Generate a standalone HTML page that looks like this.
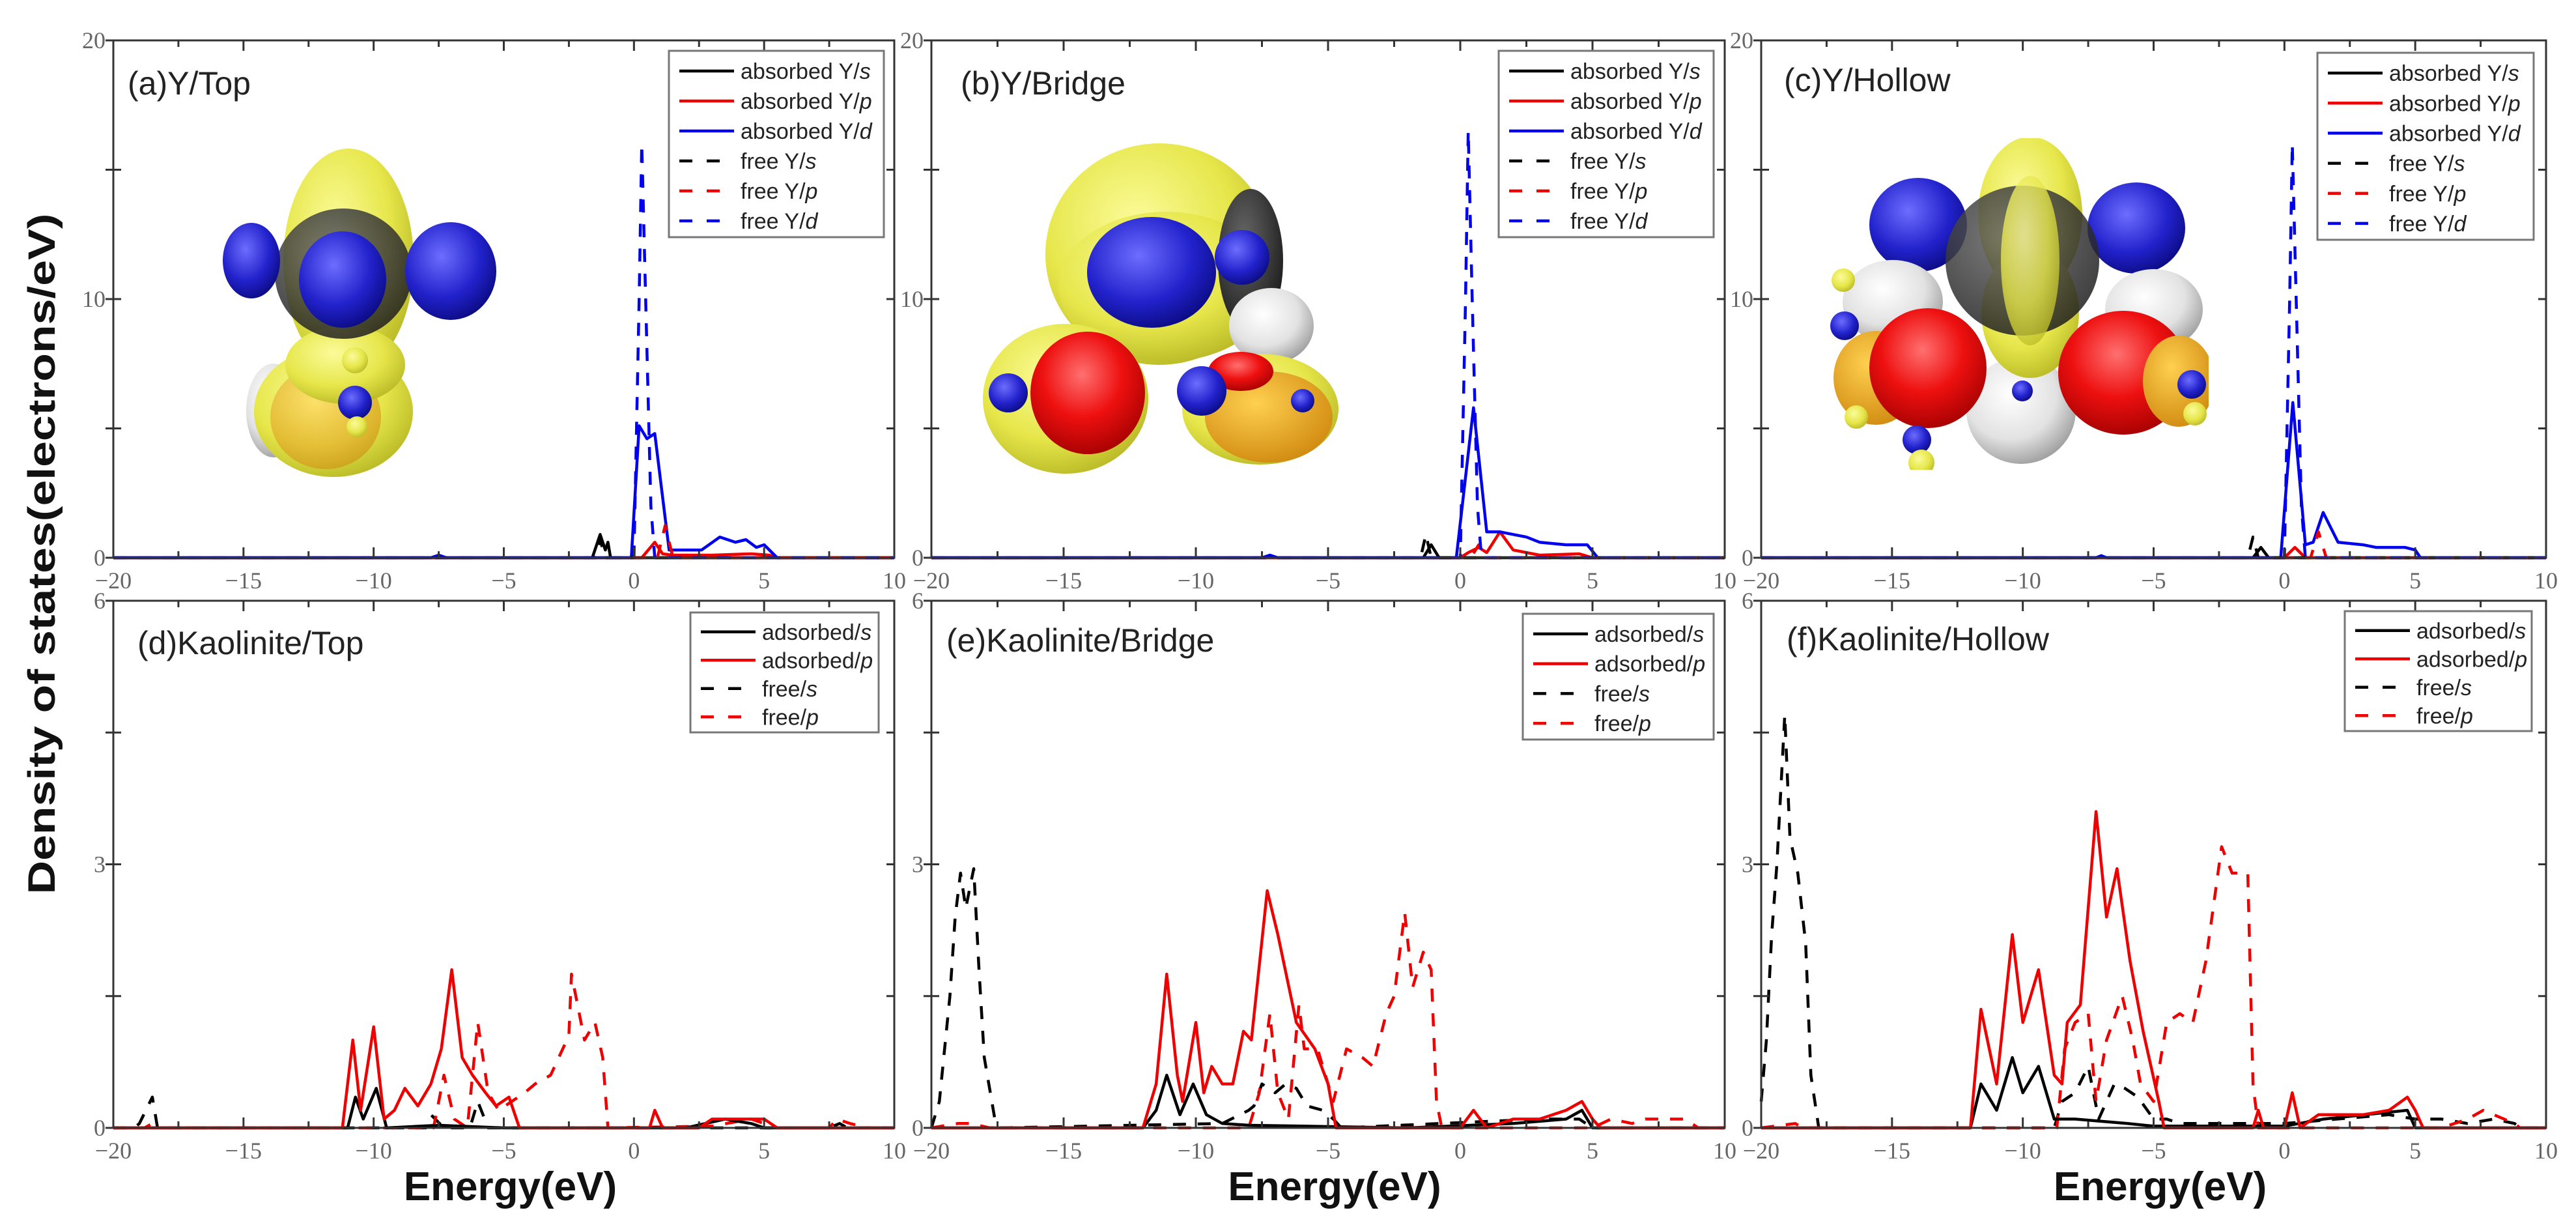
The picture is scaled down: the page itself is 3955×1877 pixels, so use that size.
<!DOCTYPE html>
<html><head><meta charset="utf-8"><style>
html,body{margin:0;padding:0;background:#fff;}
svg{display:block;}
.tk{font-family:"Liberation Serif",serif;font-size:36px;fill:#666;}
.ttl{font-family:"Liberation Sans",sans-serif;font-size:50px;fill:#222;}
.lg{font-family:"Liberation Sans",sans-serif;font-size:34px;fill:#222;}
.ax{font-family:"Liberation Sans",sans-serif;font-weight:bold;fill:#111;}
</style></head><body>
<svg id="fig" width="3955" height="1877" viewBox="0 0 3955 1877" xmlns="http://www.w3.org/2000/svg">
<defs>
<radialGradient id="gY" cx="40%" cy="35%" r="70%"><stop offset="0" stop-color="#fbfb9a"/><stop offset="0.6" stop-color="#e6e64a"/><stop offset="1" stop-color="#b8b826"/></radialGradient>
<radialGradient id="gB" cx="40%" cy="35%" r="70%"><stop offset="0" stop-color="#6d6dff"/><stop offset="0.6" stop-color="#2222cc"/><stop offset="1" stop-color="#0a0a80"/></radialGradient>
<radialGradient id="gR" cx="45%" cy="35%" r="70%"><stop offset="0" stop-color="#ff7070"/><stop offset="0.5" stop-color="#ee1010"/><stop offset="1" stop-color="#a00000"/></radialGradient>
<radialGradient id="gW" cx="40%" cy="35%" r="70%"><stop offset="0" stop-color="#ffffff"/><stop offset="0.6" stop-color="#e2e2e2"/><stop offset="1" stop-color="#9a9a9a"/></radialGradient>
<radialGradient id="gK" cx="40%" cy="35%" r="70%"><stop offset="0" stop-color="#666"/><stop offset="1" stop-color="#1c1c1c"/></radialGradient>
<radialGradient id="gO" cx="40%" cy="35%" r="70%"><stop offset="0" stop-color="#ffd050"/><stop offset="1" stop-color="#d08a10"/></radialGradient>
<clipPath id="clipC"><rect x="2806" y="212" width="585" height="509"/></clipPath>
</defs>

<!-- molecule a -->
<g>
<ellipse cx="420" cy="630" rx="42" ry="72" fill="url(#gW)"/>
<ellipse cx="512" cy="632" rx="122" ry="100" fill="url(#gY)"/>
<ellipse cx="500" cy="640" rx="85" ry="80" fill="url(#gO)" opacity="0.6"/>
<ellipse cx="535" cy="400" rx="100" ry="172" fill="url(#gY)"/>
<ellipse cx="530" cy="560" rx="92" ry="60" fill="url(#gY)"/>
<ellipse cx="527" cy="420" rx="105" ry="100" fill="url(#gK)" opacity="0.85"/>
<ellipse cx="386" cy="400" rx="44" ry="58" fill="url(#gB)"/>
<ellipse cx="692" cy="416" rx="70" ry="75" fill="url(#gB)"/>
<ellipse cx="526" cy="429" rx="67" ry="74" fill="url(#gB)"/>
<circle cx="545" cy="553" r="20" fill="url(#gY)"/>
<circle cx="545" cy="618" r="26" fill="url(#gB)"/>
<circle cx="548" cy="655" r="16" fill="url(#gY)"/>
</g>
<!-- molecule b -->
<g>
<ellipse cx="1780" cy="390" rx="175" ry="170" fill="url(#gY)"/>
<ellipse cx="1790" cy="440" rx="165" ry="115" fill="url(#gY)"/>
<ellipse cx="1920" cy="400" rx="50" ry="110" fill="url(#gK)"/>
<ellipse cx="1768" cy="418" rx="99" ry="85" fill="url(#gB)"/>
<ellipse cx="1907" cy="395" rx="42" ry="42" fill="url(#gB)"/>
<ellipse cx="1952" cy="500" rx="65" ry="58" fill="url(#gW)"/>
<ellipse cx="1636" cy="612" rx="127" ry="115" fill="url(#gY)"/>
<ellipse cx="1670" cy="603" rx="88" ry="94" fill="url(#gR)"/>
<ellipse cx="1935" cy="628" rx="120" ry="85" fill="url(#gY)"/>
<ellipse cx="1948" cy="640" rx="98" ry="70" fill="url(#gO)"/>
<ellipse cx="1905" cy="570" rx="50" ry="30" fill="url(#gR)"/>
<circle cx="1548" cy="603" r="30" fill="url(#gB)"/>
<circle cx="1845" cy="600" r="38" fill="url(#gB)"/>
<circle cx="2000" cy="615" r="18" fill="url(#gB)"/>
</g>
<!-- molecule c -->
<g clip-path="url(#clipC)">
<ellipse cx="3103" cy="630" rx="84" ry="82" fill="url(#gW)"/>
<ellipse cx="3117" cy="330" rx="80" ry="120" fill="url(#gY)"/>
<ellipse cx="3117" cy="480" rx="75" ry="100" fill="url(#gY)"/>
<ellipse cx="2945" cy="345" rx="75" ry="72" fill="url(#gB)"/>
<ellipse cx="3280" cy="350" rx="75" ry="70" fill="url(#gB)"/>
<ellipse cx="3105" cy="400" rx="118" ry="115" fill="url(#gK)" opacity="0.85"/>
<ellipse cx="3117" cy="400" rx="45" ry="130" fill="url(#gY)" opacity="0.8"/>
<ellipse cx="2906" cy="463" rx="77" ry="64" fill="url(#gW)"/>
<ellipse cx="3307" cy="475" rx="75" ry="62" fill="url(#gW)"/>
<ellipse cx="2880" cy="580" rx="65" ry="72" fill="url(#gO)"/>
<ellipse cx="2960" cy="565" rx="90" ry="92" fill="url(#gR)"/>
<ellipse cx="3260" cy="572" rx="100" ry="95" fill="url(#gR)"/>
<ellipse cx="3345" cy="585" rx="55" ry="70" fill="url(#gO)"/>
<circle cx="2832" cy="500" r="22" fill="url(#gB)"/>
<circle cx="2830" cy="430" r="18" fill="url(#gY)"/>
<circle cx="2850" cy="640" r="18" fill="url(#gY)"/>
<circle cx="2943" cy="675" r="22" fill="url(#gB)"/>
<circle cx="2950" cy="710" r="20" fill="url(#gY)"/>
<circle cx="3105" cy="600" r="16" fill="url(#gB)"/>
<circle cx="3365" cy="590" r="22" fill="url(#gB)"/>
<circle cx="3370" cy="635" r="18" fill="url(#gY)"/>
</g>

<text class="ax" transform="translate(84,850) rotate(-90)" text-anchor="middle" font-size="58" textLength="1045" lengthAdjust="spacingAndGlyphs">Density of states(electrons/eV)</text>
<g id="plots"></g>
</svg>
<script>
// ===== Panel (a) Y/Top =====
const aAbsS_E = [-20,-1.6,-1.3,-1.1,-1.0,-0.9,10];
const aAbsS_D = [0,0,0.9,0.3,0.6,0,0];
const aAbsP_E = [-20,0.3,0.8,1.1,1.5,3,4.5,5.2,5.5,10];
const aAbsP_D = [0,0,0.6,0.15,0.1,0.1,0.15,0.1,0,0];
const aAbsD_E = [-20,-7.8,-7.5,-7.2,-0.1,0.2,0.5,0.8,1.35,2,2.6,3.3,3.9,4.3,4.7,5,5.5,10];
const aAbsD_D = [0,0,0.1,0,0,5.1,4.6,4.8,0.3,0.3,0.3,0.8,0.6,0.7,0.4,0.5,0,0];
const aFreeS_E = [-20,-1.5,-1.3,-1.1,10];
const aFreeS_D = [0,0,0.7,0,0];
const aFreeP_E = [-20,0.9,1.2,1.5,10];
const aFreeP_D = [0,0,1.25,0,0];
const aFreeD_E = [-20,0,0.2,0.3,0.45,0.65,0.8,10];
const aFreeD_D = [0,0,10,16,10,2,0,0];
// ===== Panel (b) Y/Bridge =====
const bAbsS_E = [-20,-1.4,-1.1,-0.8,10];
const bAbsS_D = [0,0,0.5,0,0];
const bAbsP_E = [-20,0,0.3,0.7,1.0,1.5,2,3,4.5,5,10];
const bAbsP_D = [0,0,0.2,0.4,0.2,1.0,0.3,0.1,0.15,0,0];
const bAbsD_E = [-20,-7.5,-7.2,-6.9,-0.15,0.5,1.0,1.5,2.5,3,4,4.8,5.2,10];
const bAbsD_D = [0,0,0.1,0,0,5.8,1.0,1.0,0.8,0.6,0.5,0.5,0,0];
const bFreeS_E = [-20,-1.5,-1.3,-1.1,10];
const bFreeS_D = [0,0,0.9,0,0];
const bFreeP_E = [-20,0.4,0.7,1.0,10];
const bFreeP_D = [0,0,0.5,0,0];
const bFreeD_E = [-20,0,0.2,0.3,0.45,0.65,0.8,10];
const bFreeD_D = [0,0,10,16.5,10,2,0,0];
// ===== Panel (c) Y/Hollow =====
const cAbsS_E = [-20,-1.2,-0.9,-0.6,10];
const cAbsS_D = [0,0,0.4,0,0];
const cAbsP_E = [-20,0,0.4,0.8,10];
const cAbsP_D = [0,0,0.4,0,0];
const cAbsD_E = [-20,-7.2,-7,-6.8,-0.14,0.32,0.8,1.1,1.48,2.05,3,3.5,4.6,5.0,5.2,10];
const cAbsD_D = [0,0,0.08,0,0,6.0,0.5,0.6,1.75,0.6,0.5,0.4,0.4,0.3,0,0];
const cFreeS_E = [-20,-1.4,-1.2,-1.0,10];
const cFreeS_D = [0,0,0.8,0,0];
const cFreeP_E = [-20,1.0,1.3,1.6,10];
const cFreeP_D = [0,0,1.0,0,0];
const cFreeD_E = [-20,0,0.2,0.3,0.45,0.65,0.8,10];
const cFreeD_D = [0,0,10,16,10,2,0,0];
// ===== Panel (d) Kaolinite/Top =====
const dAbsS_E = [-20,-11,-10.7,-10.4,-9.9,-9.5,-7.5,-5,2,3.5,4.5,5,10];
const dAbsS_D = [0,0,0.35,0.1,0.45,0,0.03,0,0,0.1,0.05,0,0];
const dAbsP_E = [-20,-11.2,-10.8,-10.5,-10.0,-9.6,-9.2,-8.8,-8.3,-7.8,-7.4,-7.0,-6.6,-6.2,-5.7,-5.3,-4.8,-4.4,0.6,0.8,1.1,2.5,3,5,5.5,10];
const dAbsP_D = [0,0,1.0,0.2,1.15,0.1,0.2,0.45,0.25,0.5,0.9,1.8,0.8,0.6,0.4,0.25,0.35,0,0,0.2,0,0,0.1,0.1,0,0];
const dFreeS_E = [-20,-19.2,-19,-18.5,-18.3,-8,-7.8,-7.3,-6.3,-6.0,-5.6,7.5,7.9,8.2,10];
const dFreeS_D = [0,0,0.05,0.35,0,0,0.15,0,0,0.3,0,0,0.05,0,0];
const dFreeP_E = [-20,-18.8,-18.5,-18.2,-7.7,-7.3,-6.9,-6.4,-6.0,-5.6,-5.2,-4.2,-3.8,-3.2,-2.5,-2.4,-1.9,-1.5,-1.2,-1.0,3,4.5,5.5,7.5,7.8,8.3,9,10];
const dFreeP_D = [0,0,0.05,0,0,0.6,0.1,0,1.2,0.4,0.2,0.4,0.5,0.6,1.05,1.75,1.0,1.2,0.8,0,0.02,0.1,0,0,0.1,0.05,0,0];
// ===== Panel (e) Kaolinite/Bridge =====
const eAbsS_E = [-20,-12,-11.5,-11.1,-10.6,-10.1,-9.6,-9,-8,-6,-2,2,4,4.6,5,10];
const eAbsS_D = [0,0,0.2,0.6,0.15,0.5,0.15,0.05,0.03,0.02,0,0.05,0.1,0.2,0,0];
const eAbsP_E = [-20,-12,-11.5,-11.1,-10.7,-10.5,-10.0,-9.7,-9.4,-9.0,-8.6,-8.2,-7.9,-7.3,-6.9,-6.2,-5.5,-5.0,-4.7,0,0.5,1,2,3,4,4.6,5,5.3,10];
const eAbsP_D = [0,0,0.5,1.75,0.6,0.3,1.2,0.4,0.7,0.5,0.5,1.1,1.0,2.7,2.2,1.2,0.9,0.5,0,0,0.2,0,0.1,0.1,0.2,0.3,0.1,0,0];
const eFreeS_E = [-20,-19.7,-19.3,-19.1,-18.9,-18.7,-18.5,-18.4,-18.2,-18.0,-17.6,-17.4,-9,-8,-7.8,-7.5,-7,-6.6,-6.2,-5.8,-5.2,-4.8,-4.5,3,4.5,5,10];
const eFreeS_D = [0,0.3,1.5,2.4,2.9,2.5,2.8,2.95,1.8,0.8,0.1,0,0.05,0.2,0.25,0.5,0.4,0.5,0.45,0.25,0.2,0.1,0,0.1,0.1,0,0];
const eFreeP_E = [-20,-19,-18.5,-17.8,-8,-7.6,-7.2,-6.9,-6.5,-6.1,-5.9,-5.4,-4.8,-4.3,-3.7,-3.3,-2.8,-2.5,-2.1,-1.8,-1.4,-1.1,-0.9,-0.7,5,5.7,6.5,7,8,8.5,9,10];
const eFreeP_D = [0,0.05,0.05,0,0,0.4,1.3,0.4,0.1,1.4,0.9,0.9,0.3,0.9,0.8,0.7,1.3,1.5,2.45,1.6,2.0,1.8,0.3,0,0,0.1,0.05,0.1,0.1,0.1,0,0];
// ===== Panel (f) Kaolinite/Hollow =====
const fAbsS_E = [-20,-12,-11.6,-11.0,-10.4,-10.0,-9.4,-8.8,-8,-6,-5,0,1.5,4.7,5,10];
const fAbsS_D = [0,0,0.5,0.2,0.8,0.4,0.7,0.1,0.1,0.05,0.02,0.02,0.1,0.2,0,0];
const fAbsP_E = [-20,-12,-11.6,-11.0,-10.4,-10.0,-9.4,-8.8,-8.5,-8.3,-7.8,-7.2,-6.8,-6.4,-5.9,-5.4,-4.8,-4.6,-1.2,-1,-0.8,0,0.3,0.6,1.3,2,3,4,4.7,5,5.3,10];
const fAbsP_D = [0,0,1.35,0.5,2.2,1.2,1.8,0.6,0.5,1.2,1.4,3.6,2.4,2.95,1.9,1.1,0.3,0,0,0.2,0,0,0.4,0,0.15,0.15,0.15,0.2,0.35,0.2,0,0];
const fFreeS_E = [-20,-19.8,-19.6,-19.4,-19.1,-18.9,-18.6,-18.3,-18.1,-17.8,-8.8,-8.5,-8.0,-7.5,-7.1,-6.5,-6.1,-5.6,-5,-4.5,-4,-2,0,2,4,5,6,7,8,8.8,9,10];
const fFreeS_D = [0.3,1.0,2.2,3.0,4.7,3.3,2.9,2.1,0.6,0,0,0.3,0.4,0.7,0.1,0.5,0.45,0.35,0.1,0.1,0.05,0.05,0.05,0.1,0.15,0.1,0.1,0.05,0.1,0.05,0,0];
const fFreeP_E = [-20,-18.7,-18.4,-8.7,-8.4,-8.0,-7.5,-7.2,-6.8,-6.2,-5.8,-5.5,-5.0,-4.5,-4.0,-3.5,-3.0,-2.4,-2.0,-1.4,-1.2,-1.0,6,7,7.6,8,8.8,9,10];
const fFreeP_D = [0,0.05,0,0,0.9,1.2,1.3,0.3,1.0,1.5,1.0,0.5,0.3,1.2,1.3,1.2,1.9,3.2,2.9,2.9,0.5,0,0,0.1,0.2,0.15,0.05,0,0];

const xTicks = [-20,-15,-10,-5,0,5,10];
const yTicksTop = [0,10,20];
const yTicksBot = [0,3,6];
const legendTop = ['absorbed Y/','absorbed Y/','absorbed Y/','free Y/','free Y/','free Y/'];
const legendBot = ['adsorbed/','adsorbed/','free/','free/'];

const NS = 'http://www.w3.org/2000/svg';
const root = document.getElementById('plots');
function mk(tag, attrs, parent){
  const e = document.createElementNS(NS, tag);
  for (const k in attrs) e.setAttribute(k, attrs[k]);
  (parent||root).appendChild(e);
  return e;
}
const panels = [
  {id:'a', x0:174, x1:1373, y0:62, y1:856, ymax:20, ticks:yTicksTop, title:'(a)Y/Top', tx:196, ty:145,
   lg:{x:1027,y:78,w:330,h:286,rows:6}, series:[[aAbsS_E,aAbsS_D,'#000',0],[aAbsP_E,aAbsP_D,'#ee0000',0],[aAbsD_E,aAbsD_D,'#0000ee',0],[aFreeS_E,aFreeS_D,'#000',1],[aFreeP_E,aFreeP_D,'#ee0000',1],[aFreeD_E,aFreeD_D,'#0000ee',1]]},
  {id:'b', x0:1430, x1:2648, y0:62, y1:856, ymax:20, ticks:yTicksTop, title:'(b)Y/Bridge', tx:1475, ty:145,
   lg:{x:2301,y:78,w:330,h:286,rows:6}, series:[[bAbsS_E,bAbsS_D,'#000',0],[bAbsP_E,bAbsP_D,'#ee0000',0],[bAbsD_E,bAbsD_D,'#0000ee',0],[bFreeS_E,bFreeS_D,'#000',1],[bFreeP_E,bFreeP_D,'#ee0000',1],[bFreeD_E,bFreeD_D,'#0000ee',1]]},
  {id:'c', x0:2704, x1:3909, y0:62, y1:856, ymax:20, ticks:yTicksTop, title:'(c)Y/Hollow', tx:2739, ty:140,
   lg:{x:3558,y:81,w:332,h:287,rows:6}, series:[[cAbsS_E,cAbsS_D,'#000',0],[cAbsP_E,cAbsP_D,'#ee0000',0],[cAbsD_E,cAbsD_D,'#0000ee',0],[cFreeS_E,cFreeS_D,'#000',1],[cFreeP_E,cFreeP_D,'#ee0000',1],[cFreeD_E,cFreeD_D,'#0000ee',1]]},
  {id:'d', x0:174, x1:1373, y0:922, y1:1731, ymax:6, ticks:yTicksBot, title:'(d)Kaolinite/Top', tx:211, ty:1004,
   lg:{x:1060,y:940,w:289,h:184,rows:4}, series:[[dFreeS_E,dFreeS_D,'#000',1],[dFreeP_E,dFreeP_D,'#ee0000',1],[dAbsS_E,dAbsS_D,'#000',0],[dAbsP_E,dAbsP_D,'#ee0000',0]]},
  {id:'e', x0:1430, x1:2648, y0:922, y1:1731, ymax:6, ticks:yTicksBot, title:'(e)Kaolinite/Bridge', tx:1453, ty:1000,
   lg:{x:2338,y:942,w:293,h:193,rows:4}, series:[[eFreeS_E,eFreeS_D,'#000',1],[eFreeP_E,eFreeP_D,'#ee0000',1],[eAbsS_E,eAbsS_D,'#000',0],[eAbsP_E,eAbsP_D,'#ee0000',0]]},
  {id:'f', x0:2704, x1:3909, y0:922, y1:1731, ymax:6, ticks:yTicksBot, title:'(f)Kaolinite/Hollow', tx:2743, ty:998,
   lg:{x:3600,y:938,w:287,h:184,rows:4}, series:[[fFreeS_E,fFreeS_D,'#000',1],[fFreeP_E,fFreeP_D,'#ee0000',1],[fAbsS_E,fAbsS_D,'#000',0],[fAbsP_E,fAbsP_D,'#ee0000',0]]}
];
const legendStyles6 = [['#000',0,'s'],['#ee0000',0,'p'],['#0000ee',0,'d'],['#000',1,'s'],['#ee0000',1,'p'],['#0000ee',1,'d']];
const legendStyles4 = [['#000',0,'s'],['#ee0000',0,'p'],['#000',1,'s'],['#ee0000',1,'p']];

panels.forEach(p => {
  const g = mk('g', {});
  
  
  const sx = v => p.x0 + (v + 20) / 30 * (p.x1 - p.x0);
  const sy = v => p.y1 - v / p.ymax * (p.y1 - p.y0);
  // series
  p.series.forEach((s, i) => {
    const pts = s[0].map((e, k) => sx(e).toFixed(1) + ',' + sy(s[1][k]).toFixed(1)).join(' ');
    const pl = mk('polyline', {points: pts, fill: 'none', stroke: s[2], 'stroke-width': 4.5, 'stroke-linejoin': 'round'}, g);
    if (s[3]) pl.setAttribute('stroke-dasharray', '20 18');
    
    
  });
  // frame
  const fr = mk('rect', {x: p.x0, y: p.y0, width: p.x1 - p.x0, height: p.y1 - p.y0, fill: 'none', stroke: '#333', 'stroke-width': 3}, g);
  
  
  // x ticks
  for (let v = -20; v <= 10; v += 2.5) {
    const x = sx(v), major = (v % 5 === 0);
    const L = major ? 16 : 10;
    mk('line', {x1: x, x2: x, y1: p.y0, y2: p.y0 + L, stroke: '#333', 'stroke-width': 3}, g);
    mk('line', {x1: x, x2: x, y1: p.y1, y2: p.y1 - L, stroke: '#333', 'stroke-width': 3}, g);
  }
  xTicks.forEach(v => {
    const t = mk('text', {x: sx(v), y: p.y1 + 47, 'text-anchor': 'middle', class: 'tk'}, g);
    t.textContent = String(v).replace('-', '\u2212');
    
    
  });
  // y ticks
  const step = p.ticks[1] / 2;
  for (let v = 0; v <= p.ymax + 1e-9; v += step) {
    const y = sy(v);
    mk('line', {x1: p.x0 - 12, x2: p.x0 + 12, y1: y, y2: y, stroke: '#333', 'stroke-width': 3}, g);
    mk('line', {x1: p.x1 - 12, x2: p.x1, y1: y, y2: y, stroke: '#333', 'stroke-width': 3}, g);
  }
  p.ticks.forEach(v => {
    const t = mk('text', {x: p.x0 - 12, y: sy(v) + 12, 'text-anchor': 'end', class: 'tk'}, g);
    t.textContent = String(v);
    
    
  });
  // title
  const tt = mk('text', {x: p.tx, y: p.ty, class: 'ttl'}, g);
  tt.textContent = p.title;
  
  
  // legend
  const lg = p.lg;
  const lgG = mk('g', {}, g);
  
  
  mk('rect', {x: lg.x, y: lg.y, width: lg.w, height: lg.h, fill: '#fff', stroke: '#777', 'stroke-width': 3}, lgG);
  const labels = lg.rows === 6 ? legendTop : legendBot;
  const styles = lg.rows === 6 ? legendStyles6 : legendStyles4;
  const rowH = (lg.h - 10) / lg.rows;
  labels.forEach((lab, i) => {
    const y = lg.y + 8 + rowH * (i + 0.5);
    const ln = mk('line', {x1: lg.x + 16, x2: lg.x + 100, y1: y, y2: y, stroke: styles[i][0], 'stroke-width': 4.5}, lgG);
    if (styles[i][1]) ln.setAttribute('stroke-dasharray', '20 22');
    const t = mk('text', {x: lg.x + 110, y: y + 12, class: 'lg'}, lgG);
    t.textContent = lab;
    const it = mk('tspan', {'font-style': 'italic'}, t);
    it.textContent = styles[i][2];
    
    
  });
  // x-axis title for bottom
  if (p.ymax === 6) {
    const xt = mk('text', {x: (p.x0 + p.x1) / 2 + 10, y: 1842, 'text-anchor': 'middle', class: 'ax', 'font-size': 62}, g);
    xt.textContent = 'Energy(eV)';
    
    
  }
});
</script>
</body></html>
